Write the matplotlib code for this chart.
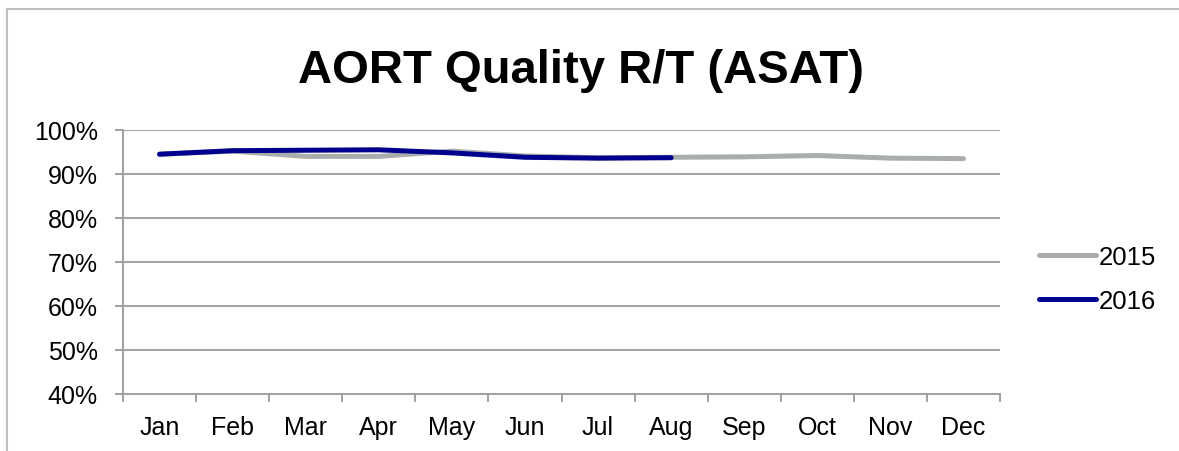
import matplotlib.pyplot as plt
from matplotlib.lines import Line2D
from matplotlib.ticker import FixedLocator, PercentFormatter, NullFormatter

plt.rcParams['font.family'] = ['Liberation Sans', 'DejaVu Sans']

# --- data ---
months = ["Jan", "Feb", "Mar", "Apr", "May", "Jun",
          "Jul", "Aug", "Sep", "Oct", "Nov", "Dec"]
q2015 = [94.5, 95.2, 94.0, 94.0, 95.2, 94.1, 93.7, 93.8, 93.9, 94.2, 93.6, 93.5]
q2016 = [94.5, 95.3, 95.4, 95.5, 94.8, 93.8, 93.6, 93.7]
# ------------

grey_line = "#A9AEAD"
navy = "#00008E"
grid_col = "#A0A0A0"

fig = plt.figure(figsize=(11.79, 4.52), dpi=100)
ax = fig.add_axes([123 / 1179, 1 - 395 / 452, 877 / 1179, 264 / 452])

x15 = [i + 0.5 for i in range(len(q2015))]
x16 = [i + 0.5 for i in range(len(q2016))]
ax.plot(x15, [v / 100 for v in q2015], color=grey_line, lw=3.6,
        solid_capstyle="round", solid_joinstyle="round", label="2015")
ax.plot(x16, [v / 100 for v in q2016], color=navy, lw=3.6,
        solid_capstyle="round", solid_joinstyle="round", label="2016")

ax.set_xlim(0, 12)
ax.set_ylim(0.4, 1.0)
ax.set_yticks([0.4, 0.5, 0.6, 0.7, 0.8, 0.9, 1.0])
ax.yaxis.set_major_formatter(PercentFormatter(1.0, decimals=0))
ax.grid(axis="y", color=grid_col, lw=1.4)
ax.set_axisbelow(True)

# category boundaries get tick marks, labels sit in the middle
ax.xaxis.set_major_locator(FixedLocator(range(13)))
ax.xaxis.set_major_formatter(NullFormatter())
ax.xaxis.set_minor_locator(FixedLocator(x15))
ax.set_xticklabels(months, minor=True)
ax.tick_params(axis="x", which="minor", length=0, pad=15, labelsize=18)
ax.tick_params(axis="x", which="major", length=6, width=1.4, color=grid_col)
ax.tick_params(axis="y", length=6, width=1.4, color=grid_col, pad=12, labelsize=18)

for s in ["top", "right"]:
    ax.spines[s].set_visible(False)
for s in ["left", "bottom"]:
    ax.spines[s].set_color(grid_col)
    ax.spines[s].set_linewidth(1.4)

fig.text(0.493, 1 - 83 / 452, "AORT Quality R/T (ASAT)", fontsize=34,
         fontweight="bold", ha="center", va="baseline")

fig.legend(loc="center left", bbox_to_anchor=(1039 / 1179, 1 - 280 / 452),
           frameon=False, fontsize=18.5, handlelength=2.2, handletextpad=0.12,
           labelspacing=0.75, borderpad=0, borderaxespad=0)

# outer chart frame (left and top edges)
fig.add_artist(Line2D([7 / 1179, 7 / 1179], [0, 1 - 10 / 452],
                      color="#C0C0C0", lw=1.5, transform=fig.transFigure))
fig.add_artist(Line2D([7 / 1179, 1], [1 - 10 / 452, 1 - 10 / 452],
                      color="#C0C0C0", lw=1.5, transform=fig.transFigure))

plt.savefig("out.png", dpi=100)
